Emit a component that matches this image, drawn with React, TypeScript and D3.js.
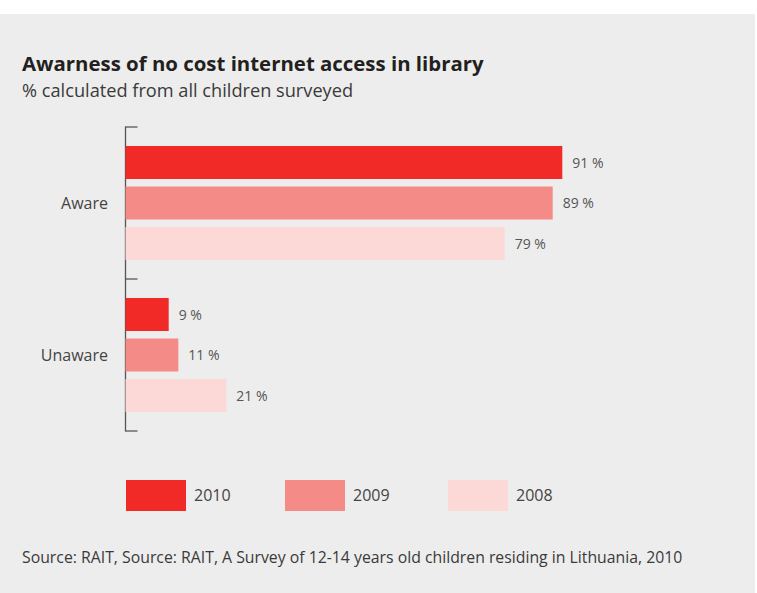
import React, { useEffect } from "react";
import * as d3 from "d3";

const categories = ["Aware", "Unaware"];
const years = ["2010", "2009", "2008"];
const values2010 = [91, 9];
const values2009 = [89, 11];
const values2008 = [79, 21];
const yearColors = ["#f12a28", "#f58b87", "#fcd8d6"];

const W = 757;
const H = 593;
const FONT = "'Open Sans', 'DejaVu Sans', sans-serif";

export default function App() {
  useEffect(() => {
    document.body.style.margin = "0";
  }, []);

  const seriesValues = [values2010, values2009, values2008];

  const x = d3.scaleLinear().domain([0, 100]).range([125.5, 605.5]);
  const y = d3.scaleBand<string>().domain(categories).range([127, 431]).paddingInner(0).paddingOuter(0);
  const yInner = d3
    .scaleBand<string>()
    .domain(years)
    .range([0, y.bandwidth()])
    .paddingInner(0.185)
    .paddingOuter(0.469);

  const axisX = x(0);
  const tickYs = [127, ...categories.map((c) => (y(c) as number) + y.bandwidth())];

  const legendX = [126, 285, 448];

  return (
    <svg width={W} height={H} viewBox={`0 0 ${W} ${H}`} style={{ display: "block" }}>
      <rect x={0} y={0} width={W} height={H} fill="#ffffff" />
      <rect x={0} y={14} width={755} height={H - 14} fill="#ededed" />

      <text x={22} y={71} fontFamily={FONT} fontWeight={700} fontSize={20.4} fill="#231f20">
        Awarness of no cost internet access in library
      </text>
      <text x={22} y={97} fontFamily={FONT} fontWeight={400} fontSize={18.2} fill="#3a3a3a">
        % calculated from all children surveyed
      </text>

      {/* axis spine with bracket ticks */}
      <line x1={axisX} x2={axisX} y1={126.5} y2={431.5} stroke="#555" strokeWidth={1.3} />
      {tickYs.map((ty, i) => (
        <line key={i} x1={axisX} x2={axisX + 12} y1={ty} y2={ty} stroke="#555" strokeWidth={1.3} />
      ))}

      {categories.map((cat, ci) => {
        const band = y(cat) as number;
        return (
          <g key={cat}>
            <text
              x={108}
              y={band + y.bandwidth() / 2}
              dy="0.36em"
              textAnchor="end"
              fontFamily={FONT}
              fontSize={16}
              fill="#444"
            >
              {cat}
            </text>
            {years.map((yr, si) => {
              const v = seriesValues[si][ci];
              const by = band + (yInner(yr) as number);
              return (
                <g key={yr}>
                  <rect
                    x={x(0)}
                    y={by}
                    width={x(v) - x(0)}
                    height={yInner.bandwidth()}
                    fill={yearColors[si]}
                  />
                  <text
                    x={x(v) + 10}
                    y={by + yInner.bandwidth() / 2}
                    dy="0.36em"
                    fontFamily={FONT}
                    fontSize={14}
                    fill="#555"
                  >
                    {`${v} %`}
                  </text>
                </g>
              );
            })}
          </g>
        );
      })}

      {years.map((yr, i) => (
        <g key={yr}>
          <rect x={legendX[i]} y={480} width={60} height={31} fill={yearColors[i]} />
          <text x={legendX[i] + 68} y={495.5} dy="0.36em" fontFamily={FONT} fontSize={16} fill="#444">
            {yr}
          </text>
        </g>
      ))}

      <text x={22} y={563} fontFamily={FONT} fontSize={15.8} fill="#3a3a3a">
        Source: RAIT, Source: RAIT, A Survey of 12-14 years old children residing in Lithuania, 2010
      </text>
    </svg>
  );
}
